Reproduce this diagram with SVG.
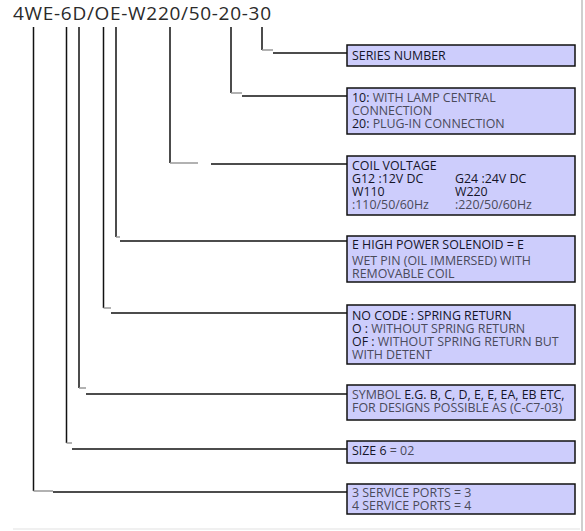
<svg xmlns="http://www.w3.org/2000/svg" width="585" height="531" viewBox="0 0 585 531">
<style>
.title{font-family:"Open Sans","Liberation Sans",sans-serif;font-size:19px;fill:#2a2a2a}
.t{font-family:"Open Sans","Liberation Sans",sans-serif;font-size:12.4px;fill:#4a4a5a}
.b{fill:#141428}
.box{fill:#cdcdfc;stroke:#111;stroke-width:1.5}
.ln{stroke:#111;stroke-width:1.5;fill:none}
.g{stroke:#999;stroke-width:1.5;fill:none}
</style>
<rect width="585" height="531" fill="#fff"/>
<line x1="582" y1="0" x2="582" y2="531" stroke="#cfcfcf" stroke-width="2"/>
<line x1="13" y1="529" x2="580" y2="529" stroke="#f0f0f0" stroke-width="2"/>
<text class="title" x="13" y="20" textLength="258" lengthAdjust="spacing">4WE-6D/OE-W220/50-20-30</text>
<g id="connectors">
<path class="ln" d="M262,27V50"/><path class="g" d="M262,50H273"/><path class="ln" d="M273,53H347"/>
<path class="ln" d="M231,27V93"/><path class="g" d="M231,93H242"/><path class="ln" d="M242,96H347"/>
<path class="ln" d="M170,27V163"/><path class="g" d="M170,163H198"/><path class="ln" d="M211,164H347"/>
<path class="ln" d="M116,27V237"/><path class="g" d="M116,237H120"/><path class="ln" d="M120,241H347"/>
<path class="ln" d="M103.5,27V308"/><path class="g" d="M103.5,308H111"/><path class="ln" d="M111,313H347"/>
<path class="ln" d="M79,27V388"/><path class="g" d="M79,388H86"/><path class="ln" d="M86,394H347"/>
<path class="ln" d="M66.5,27V443"/><path class="g" d="M66.5,443H72"/><path class="ln" d="M72,449H347"/>
<path class="ln" d="M33.5,27V491"/><path class="g" d="M33.5,491H53"/><path class="ln" d="M53,492H347"/>
</g>
<g id="n1"><rect class="box" x="347" y="45" width="228" height="21"/>
<text class="t b" x="352" y="60">SERIES NUMBER</text></g>
<g id="n2"><rect class="box" x="347" y="88" width="228" height="46"/>
<text class="t" x="352" y="102"><tspan class="b">10:</tspan> WITH LAMP CENTRAL</text>
<text class="t" x="352" y="115">CONNECTION</text>
<text class="t" x="352" y="128"><tspan class="b">20:</tspan> PLUG-IN CONNECTION</text></g>
<g id="n3"><rect class="box" x="347" y="156" width="228" height="59"/>
<text class="t b" x="352" y="170">COIL VOLTAGE</text>
<text class="t b" x="352" y="183">G12 :12V DC</text>
<text class="t b" x="455" y="183">G24 :24V DC</text>
<text class="t b" x="352" y="196">W110</text>
<text class="t b" x="455" y="196">W220</text>
<text class="t" x="352" y="209">:110/50/60Hz</text>
<text class="t" x="455" y="209">:220/50/60Hz</text></g>
<g id="n4"><rect class="box" x="347" y="236" width="228" height="46"/>
<text class="t b" x="352" y="249">E HIGH POWER SOLENOID = E</text>
<text class="t" x="352" y="265">WET PIN (OIL IMMERSED) WITH</text>
<text class="t" x="352" y="278">REMOVABLE COIL</text></g>
<g id="n5"><rect class="box" x="347" y="305" width="228" height="59"/>
<text class="t b" x="352" y="320">NO CODE : SPRING RETURN</text>
<text class="t" x="352" y="333"><tspan class="b">O :</tspan> WITHOUT SPRING RETURN</text>
<text class="t" x="352" y="346"><tspan class="b">OF :</tspan> WITHOUT SPRING RETURN BUT</text>
<text class="t" x="352" y="359">WITH DETENT</text></g>
<g id="n6"><rect class="box" x="347" y="385" width="228" height="35"/>
<text class="t" x="352" y="399">SYMBOL <tspan class="b">E.G. B, C, D, E, E, EA, EB ETC,</tspan></text>
<text class="t" x="352" y="412">FOR DESIGNS POSSIBLE AS (C-C7-03)</text></g>
<g id="n7"><rect class="box" x="347" y="441" width="228" height="22"/>
<text class="t" x="352" y="455"><tspan class="b">SIZE 6</tspan> = 02</text></g>
<g id="n8"><rect class="box" x="347" y="484" width="228" height="30"/>
<text class="t" x="352" y="497">3 SERVICE PORTS = 3</text>
<text class="t" x="352" y="510">4 SERVICE PORTS = 4</text></g>
</svg>
